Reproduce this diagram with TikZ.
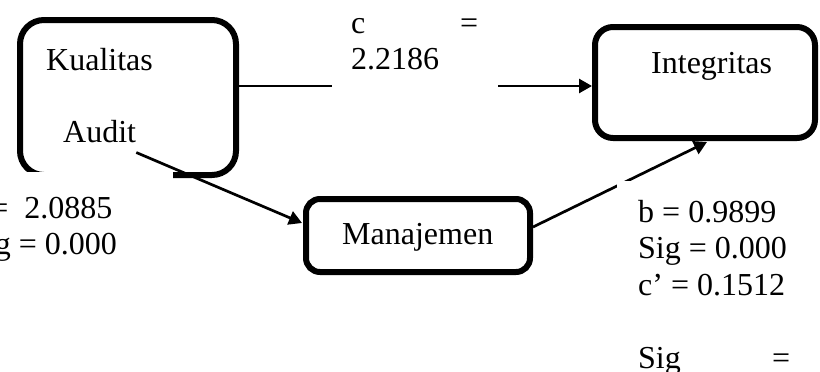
\documentclass[tikz,border=0pt]{standalone}
\usepackage{fontspec}
\setmainfont{Liberation Serif}
\usetikzlibrary{arrows.meta,calc}
\begin{document}
\begin{tikzpicture}[x=1pt,y=-1pt,
  varbox/.style={draw=black, line width=6pt, inner sep=0pt, fill=white},
  link/.style={line width=2.7pt, -{Triangle[length=13pt,width=14pt]}},
  cover/.style={fill=white, draw=none},
  lbl/.style={inner sep=0pt, anchor=base west, font=\fontsize{32}{36.5}\selectfont},
]
\useasboundingbox (0,0) rectangle (820,372);

% variable boxes
\node[varbox, rounded corners=24pt, minimum width=216pt, minimum height=155pt] (kual) at (128,97.5) {};
\node[varbox, rounded corners=18pt, minimum width=220pt, minimum height=111pt] (integ) at (705,82.5) {};
\node[varbox, rounded corners=14pt, minimum width=224pt, minimum height=73pt] (mana) at (418,235.5) {};

% box captions
\node[lbl] (tkual) at (46,70) {Kualitas};
\node[lbl] (taudit) at (63,142) {Audit};
\node[lbl] (tinteg) at (651,73) {Integritas};
\node[lbl] (tmana) at (342,244) {Manajemen};

% paths between variables
\draw[link] ($(kual.east)+(0,-11.5)$) -- ($(integ.west)+(0,3.5)$);
\draw[link] ($(taudit.south east)+(0,10)$) -- ($(mana.west)+(-1,-12.5)$);
\draw[link] ($(mana.east)+(0,-8.5)$) -- ($(integ.south)+(2,1)$);

% coefficient text boxes (white background over the lines)
\fill[cover] (332,-10) rectangle (498,87);
\fill[cover] (-40,172.4) rectangle (173,330);
\fill[cover] (617,181) rectangle (812,380);

\node[lbl] (clbl) at (351,33) {\parbox[t]{127pt}{\makebox[127pt]{c\hfill=}\\2.2186}};
\node[lbl] (albl) at (-32,218) {\parbox[t]{200pt}{a =\ \ 2.0885\\Sig = 0.000}};
\node[lbl] (blbl) at (638,222) {\parbox[t]{160pt}{b = 0.9899\\Sig = 0.000\\c’ = 0.1512\\[36.5pt]\makebox[152pt]{Sig\hfill=}}};
\end{tikzpicture}
\end{document}
